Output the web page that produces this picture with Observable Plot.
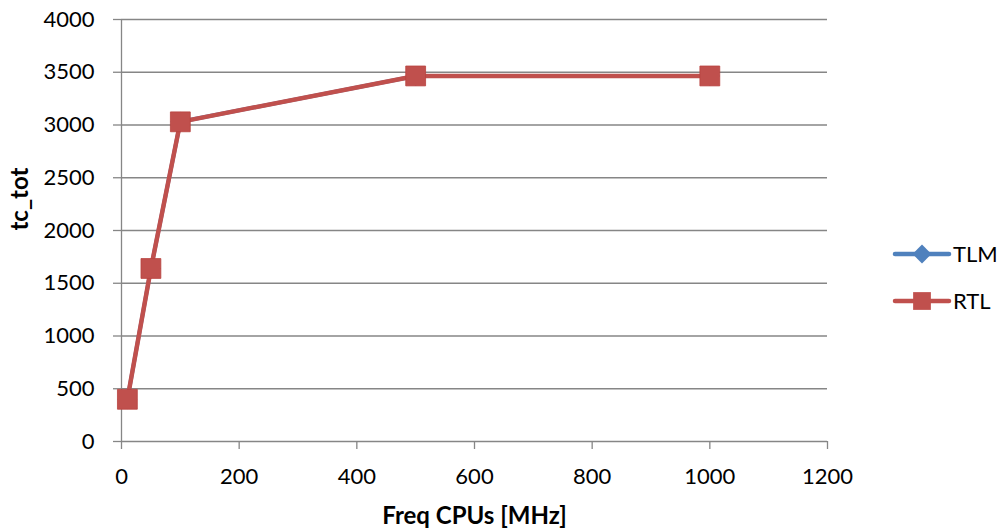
<!DOCTYPE html>
<html>
<head>
<meta charset="utf-8">
<script src="https://cdn.jsdelivr.net/npm/d3@7"></script>
<script src="https://cdn.jsdelivr.net/npm/@observablehq/plot@0.6"></script>
<style>
  html, body { margin: 0; padding: 0; background: #fff; }
  #wrap { position: relative; width: 1003px; height: 531px; font-family: Lato, "Open Sans", sans-serif; }
  #legend { position: absolute; left: 890px; top: 237px; }
</style>
</head>
<body>
<div id="wrap"></div>
<script>
// CPU frequency sweep: total cycles per configuration
const freqs = [10, 50, 100, 500, 1000];
const tlmTot = [400, 1640, 3030, 3465, 3465];
const rtlTot = [400, 1640, 3030, 3465, 3465];
const seriesNames = ["TLM", "RTL"];
const seriesColors = ["#4F81BD", "#C0504D"];
const xTicks = [0, 200, 400, 600, 800, 1000, 1200];
const yTicks = [0, 500, 1000, 1500, 2000, 2500, 3000, 3500, 4000];

const rows = [
  ...freqs.map((f, i) => ({series: "TLM", f, v: tlmTot[i]})),
  ...freqs.map((f, i) => ({series: "RTL", f, v: rtlTot[i]}))
];
const tlm = rows.filter(d => d.series === "TLM");
const rtl = rows.filter(d => d.series === "RTL");

const grid = "#868686";
const font = "Lato, 'Open Sans', sans-serif";

const chart = Plot.plot({
  width: 1003,
  height: 531,
  marginLeft: 121,
  marginRight: 176,
  marginTop: 19,
  marginBottom: 90,
  style: {fontFamily: font, fontSize: "22px", color: "#000", background: "#fff"},
  x: {domain: [0, 1200], ticks: xTicks, label: null},
  y: {domain: [0, 4000], ticks: yTicks, label: null},
  marks: [
    Plot.ruleY(yTicks, {stroke: grid, strokeWidth: 1.3}),
    Plot.ruleX([0], {stroke: grid, strokeWidth: 1.3}),
    Plot.axisY({ticks: yTicks, tickSize: 8, tickPadding: 19, stroke: grid, strokeWidth: 1.3, tickFormat: d => String(d), fill: "#000", fontSize: 22}),
    Plot.axisX({ticks: xTicks, tickSize: 8, tickPadding: 19, stroke: grid, strokeWidth: 1.3, tickFormat: d => String(d), fill: "#000", fontSize: 22}),
    Plot.line(tlm, {x: "f", y: "v", stroke: seriesColors[0], strokeWidth: 4}),
    Plot.dot(tlm, {x: "f", y: "v", symbol: "diamond2", r: 9, fill: seriesColors[0], stroke: null}),
    Plot.line(rtl, {x: "f", y: "v", stroke: seriesColors[1], strokeWidth: 4.5}),
    Plot.dot(rtl, {x: "f", y: "v", symbol: "square", r: 11.2, fill: seriesColors[1], stroke: "#B9423F", strokeWidth: 0.8}),
    Plot.text(["Freq CPUs [MHz]"], {frameAnchor: "bottom", lineAnchor: "middle", dy: 75, fontWeight: "bold", fontSize: 24, fill: "#000"}),
    Plot.text(["tc_tot"], {frameAnchor: "left", dx: -101, rotate: -90, fontWeight: "bold", fontSize: 24, fill: "#000"})
  ]
});
document.getElementById("wrap").appendChild(chart);

// Legend at the right of the plot area
const legend = d3.select("#wrap").append("svg")
  .attr("id", "legend")
  .attr("width", 113)
  .attr("height", 90)
  .style("font-family", font);
const sym = {TLM: d3.symbolDiamond2, RTL: d3.symbolSquare};
seriesNames.forEach((name, i) => {
  const g = legend.append("g").attr("transform", `translate(0, ${17 + i * 47})`);
  g.append("line").attr("x1", 5).attr("x2", 59).attr("y1", 0).attr("y2", 0)
    .attr("stroke", seriesColors[i]).attr("stroke-width", 4.5).attr("stroke-linecap", "round");
  const size = name === "RTL" ? Math.PI * 11.2 * 11.2 * 0.8 : Math.PI * 8.5 * 8.5;
  g.append("path").attr("d", d3.symbol(sym[name], size)()).attr("transform", "translate(32,0)")
    .attr("fill", seriesColors[i]);
  g.append("text").attr("x", 63).attr("y", 0).attr("dy", "0.36em")
    .attr("font-size", 22).attr("fill", "#000").text(name);
});
</script>
</body>
</html>
